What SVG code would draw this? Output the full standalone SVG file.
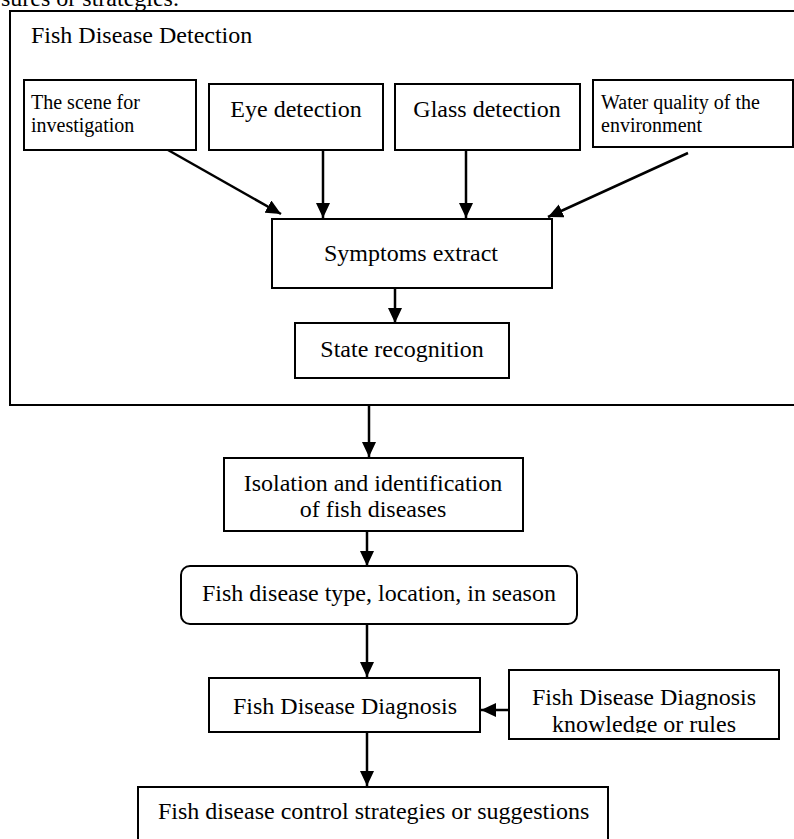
<svg xmlns="http://www.w3.org/2000/svg" width="794" height="839" viewBox="0 0 794 839">
<style>
.box{fill:#fff;stroke:#000;stroke-width:2}
.t{font-family:"Liberation Serif","Times New Roman",serif;fill:#000}
.l{font-size:24px}
.s{font-size:20px}
.c{text-anchor:middle}
.con{stroke:#000;stroke-width:2.5;fill:none;marker-end:url(#ah)}
</style>
<defs>
<marker id="ah" markerUnits="userSpaceOnUse" markerWidth="16" markerHeight="14" refX="15" refY="7" orient="auto">
<path d="M0,0 L15,7 L0,14 Z" fill="#000"/>
</marker>
<clipPath id="kclip"><rect x="509" y="670" width="270" height="63"/></clipPath>
</defs>
<rect width="794" height="839" fill="#fff"/>
<text class="t l" x="1" y="6">sures or strategies.</text>
<g id="detection">
<rect class="box" x="10" y="11" width="800" height="394"/>
<text class="t l" x="31" y="43">Fish Disease Detection</text>
</g>
<g id="scene">
<rect class="box" x="24" y="80" width="172" height="70"/>
<text class="t s" x="31" y="109">The scene for</text>
<text class="t s" x="31" y="132">investigation</text>
</g>
<g id="eye">
<rect class="box" x="209" y="84" width="174" height="66"/>
<text class="t l c" x="296" y="117">Eye detection</text>
</g>
<g id="glass">
<rect class="box" x="395" y="84" width="185" height="66"/>
<text class="t l c" x="487" y="117">Glass detection</text>
</g>
<g id="water">
<rect class="box" x="593" y="80" width="200" height="67"/>
<text class="t s" x="601" y="109">Water quality of the</text>
<text class="t s" x="601" y="132">environment</text>
</g>
<g id="symptoms">
<rect class="box" x="272" y="219" width="280" height="69"/>
<text class="t l c" x="411" y="261">Symptoms extract</text>
</g>
<g id="state">
<rect class="box" x="295" y="323" width="214" height="55"/>
<text class="t l c" x="402" y="357">State recognition</text>
</g>
<g id="isolation">
<rect class="box" x="224" y="458" width="299" height="73"/>
<text class="t l c" x="373" y="491">Isolation and identification</text>
<text class="t l c" x="373" y="517">of fish diseases</text>
</g>
<g id="type">
<rect class="box" x="181" y="566" width="396" height="58" rx="9"/>
<text class="t l c" x="379" y="601">Fish disease type, location, in season</text>
</g>
<g id="diagnosis">
<rect class="box" x="209" y="678" width="271" height="54"/>
<text class="t l c" x="345" y="714">Fish Disease Diagnosis</text>
</g>
<g id="knowledge">
<rect class="box" x="509" y="670" width="270" height="69"/>
<g clip-path="url(#kclip)">
<text class="t l c" x="644" y="705">Fish Disease Diagnosis</text>
<text class="t l c" x="644" y="732">knowledge or rules</text>
</g>
</g>
<g id="control">
<rect class="box" x="138" y="787" width="470" height="70"/>
<text class="t l" x="158" y="819">Fish disease control strategies or suggestions</text>
</g>
<g id="connectors">
<line class="con" x1="168" y1="150" x2="281" y2="214"/>
<line class="con" x1="323" y1="150" x2="323" y2="218"/>
<line class="con" x1="466" y1="150" x2="466" y2="218"/>
<line class="con" x1="688" y1="153" x2="548" y2="217"/>
<line class="con" x1="395" y1="288" x2="395" y2="323"/>
<line class="con" x1="369" y1="405" x2="369" y2="457"/>
<line class="con" x1="367" y1="531" x2="367" y2="566"/>
<line class="con" x1="367" y1="624" x2="367" y2="677"/>
<line class="con" x1="509" y1="710" x2="481" y2="710"/>
<line class="con" x1="367" y1="732" x2="367" y2="786"/>
</g>
</svg>
